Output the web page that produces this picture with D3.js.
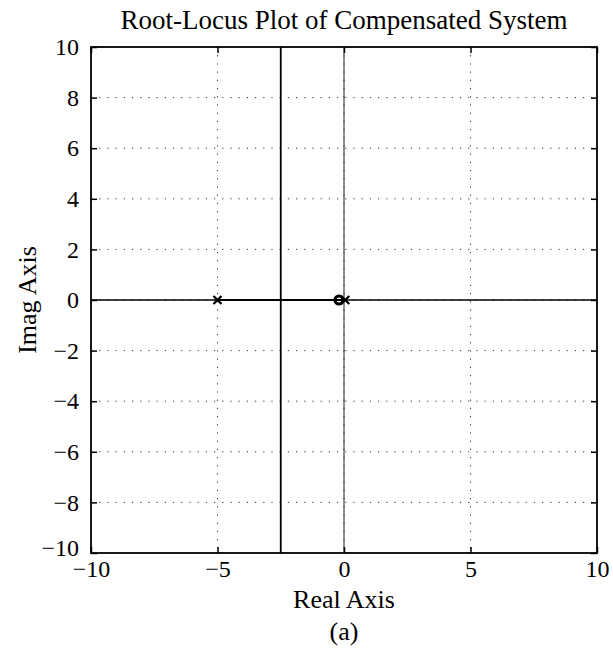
<!DOCTYPE html>
<html>
<head>
  <meta charset="utf-8">
  <title>Root-Locus Plot of Compensated System</title>
  <script src="https://d3js.org/d3.v7.min.js"></script>
  <style>
    body { margin: 0; background: #fff; }
    svg { display: block; font-family: "Liberation Serif", "DejaVu Serif", serif; }
  </style>
</head>
<body>
  <svg width="613" height="652"></svg>

  <script>
    // data
    const xTicks = [-10, -5, 0, 5, 10];
    const yTicks = [-10, -8, -6, -4, -2, 0, 2, 4, 6, 8, 10];
    const poles = [-5, 0.05];           // open-loop poles (x)
    const zeros = [-0.2];               // open-loop zeros (o)
    const realBranch = [[-5, 0], [0, 0]];            // locus on the real axis
    const asymptote = [[-2.5, -10], [-2.5, 10]];     // complex branches
    const realAxisLine = [[-10, 0], [10, 0]];
    const imagAxisLine = [[0, -10], [0, 10]];

    const svg = d3.select("svg");
    const m = { left: 91, right: 597, top: 47, bottom: 553 };

    const x = d3.scaleLinear().domain([-10, 10]).range([m.left, m.right]);
    const y = d3.scaleLinear().domain([-10, 10]).range([m.bottom, m.top]);

    // dotted grid
    const grid = svg.append("g")
      .attr("stroke", "#333")
      .attr("stroke-width", 1)
      .attr("stroke-dasharray", "1.2,7");
    grid.selectAll(".gx").data(xTicks.slice(1, -1)).join("line")
      .attr("x1", d => x(d)).attr("x2", d => x(d))
      .attr("y1", m.top).attr("y2", m.bottom);
    grid.selectAll(".gy").data(yTicks.slice(1, -1)).join("line")
      .attr("x1", m.left).attr("x2", m.right)
      .attr("y1", d => y(d)).attr("y2", d => y(d));

    const line = d3.line().x(d => x(d[0])).y(d => y(d[1]));

    // thin imaginary axis
    svg.append("path").attr("d", line(imagAxisLine))
      .attr("stroke", "#222").attr("stroke-width", 1).attr("fill", "none");
    // real axis
    svg.append("path").attr("d", line(realAxisLine))
      .attr("stroke", "#000").attr("stroke-width", 1.5).attr("fill", "none");
    // locus branches
    svg.append("path").attr("d", line(realBranch))
      .attr("stroke", "#000").attr("stroke-width", 2.2).attr("fill", "none");
    svg.append("path").attr("d", line(asymptote))
      .attr("stroke", "#000").attr("stroke-width", 1.8).attr("fill", "none");

    // zeros
    svg.selectAll(".zero").data(zeros).join("circle")
      .attr("cx", d => x(d)).attr("cy", y(0)).attr("r", 4)
      .attr("fill", "none").attr("stroke", "#000").attr("stroke-width", 3);
    // poles
    const s = 4;
    svg.selectAll(".pole").data(poles).join("path")
      .attr("d", d => `M${x(d) - s},${y(0) - s}L${x(d) + s},${y(0) + s}M${x(d) - s},${y(0) + s}L${x(d) + s},${y(0) - s}`)
      .attr("stroke", "#000").attr("stroke-width", 2.2).attr("fill", "none");

    // axes
    const styleAxis = g => {
      g.select(".domain").remove();
      g.selectAll(".tick line").attr("stroke", "#000").attr("stroke-width", 1.5);
      g.selectAll(".tick text").attr("font-size", 24).attr("fill", "#000")
        .attr("font-family", "Liberation Serif, serif");
    };
    svg.append("g").attr("transform", `translate(0,${m.bottom})`)
      .call(d3.axisBottom(x).tickValues(xTicks).tickSize(-6).tickPadding(7))
      .call(styleAxis);
    svg.append("g").attr("transform", `translate(0,${m.top})`)
      .call(d3.axisTop(x).tickValues(xTicks).tickSize(-6).tickFormat(""))
      .call(styleAxis);
    const yAxis = svg.append("g").attr("transform", `translate(${m.left},0)`)
      .call(d3.axisLeft(y).tickValues(yTicks).tickSize(-6).tickPadding(12))
      .call(styleAxis);
    // lift the lowest label a little so it clears the bottom "−10"
    yAxis.selectAll(".tick text").filter(d => d === -10).attr("y", -5);
    svg.append("g").attr("transform", `translate(${m.right},0)`)
      .call(d3.axisRight(y).tickValues(yTicks).tickSize(-6).tickFormat(""))
      .call(styleAxis);

    // frame
    svg.append("rect")
      .attr("x", m.left).attr("y", m.top)
      .attr("width", m.right - m.left).attr("height", m.bottom - m.top)
      .attr("fill", "none").attr("stroke", "#000").attr("stroke-width", 1.8);

    // labels
    svg.append("text").attr("x", (m.left + m.right) / 2).attr("y", 29)
      .attr("text-anchor", "middle").attr("font-size", 27)
      .text("Root-Locus Plot of Compensated System");
    svg.append("text").attr("x", (m.left + m.right) / 2).attr("y", 608)
      .attr("text-anchor", "middle").attr("font-size", 26)
      .text("Real Axis");
    svg.append("text")
      .attr("transform", `translate(36,${(m.top + m.bottom) / 2}) rotate(-90)`)
      .attr("text-anchor", "middle").attr("font-size", 26)
      .text("Imag Axis");
    svg.append("text").attr("x", (m.left + m.right) / 2).attr("y", 640)
      .attr("text-anchor", "middle").attr("font-size", 26)
      .text("(a)");
  </script>
</body>
</html>
